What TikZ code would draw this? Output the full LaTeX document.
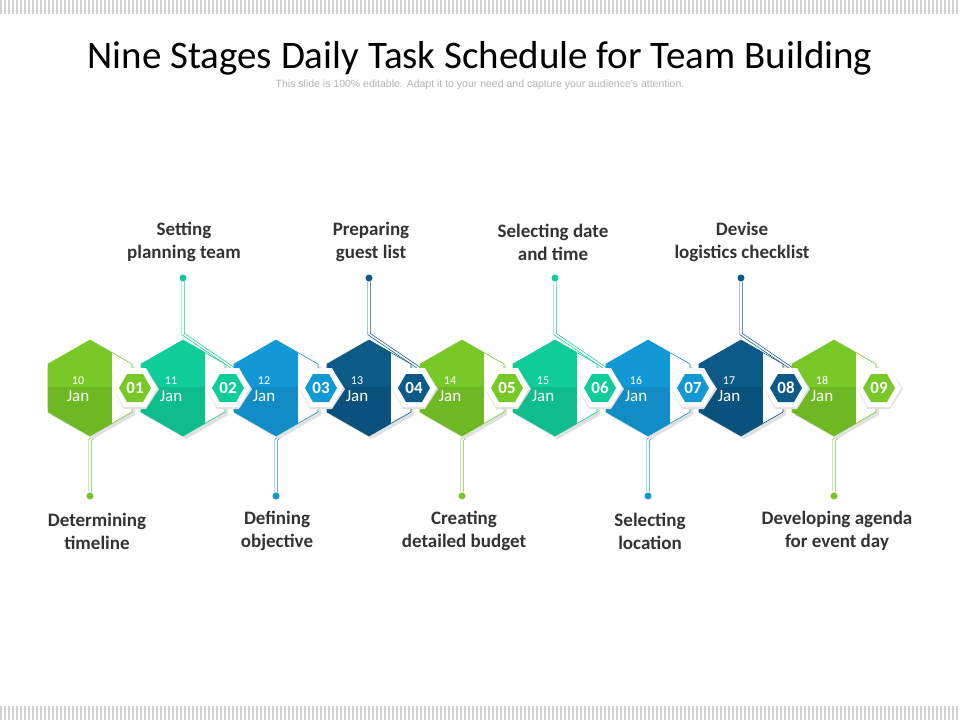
\documentclass[tikz,border=0pt]{standalone}
\usepackage{fontspec}
\setmainfont{Carlito}
\newfontfamily\arialf{Liberation Sans}
\begin{document}
\begin{tikzpicture}[x=1pt,y=-1pt,
  lbl/.style={font=\bfseries\fontsize{19}{23}\selectfont,text=black!80,align=center},
  dotn/.style={circle,fill=#1,inner sep=0pt,minimum size=7pt},
  conn/.style={draw=#1,line width=0.7pt,double=white,double distance=1.6pt},
  datet/.style={text=white,align=center,font=\fontsize{17}{18}\selectfont}]
\useasboundingbox (0,0) rectangle (960,720);
\fill[white] (0,0) rectangle (960,720);
\foreach \i in {0,4,...,956}{
  \fill[black!18] (\i,0) rectangle (\i+2,14);
  \fill[black!18] (\i,706) rectangle (\i+2,720);}
\node (title) at (480,58) {\fontsize{39}{42}\selectfont Nine Stages Daily Task Schedule for Team Building};
\node (sub) at (480,85) {\arialf\fontsize{10.5}{11}\selectfont\color{black!30} This slide is 100\% editable. Adapt it to your need and capture your audience's attention.};
\definecolor{cA}{HTML}{78C828}
\definecolor{cB}{HTML}{10CC98}
\definecolor{cC}{HTML}{1398D6}
\definecolor{cD}{HTML}{0B5A88}
% bottom connectors (odd)
\foreach \k/\c/\o/\t in {1/cA/7/{Determining\\timeline},3/cC/1/{Defining\\objective},5/cA/2/{Creating\\detailed budget},7/cC/2/{Selecting\\location},9/cA/3/{Developing agenda\\for event day}}{
  \pgfmathsetmacro\cx{90+93*(\k-1)}
  \coordinate (bs\k) at (\cx+38,407);
  \coordinate (bm\k) at (\cx,440);
  \node[dotn=\c] (bd\k) at (\cx,496) {};
  \draw[conn=\c] (bs\k)--(bm\k)--(bd\k);
  \node[lbl] (bl\k) at (\cx+\o,531) {\t};
}
\foreach \k/\c/\o/\t in {2/cB/1/{Setting\\planning team},4/cD/2/{Preparing\\guest list},6/cB/-2/{Selecting date\\and time},8/cD/1/{Devise\\logistics checklist}}{
  \pgfmathsetmacro\cx{90+93*(\k-1)}
  \coordinate (ts\k) at (\cx+50,368);
  \coordinate (tm\k) at (\cx,334);
  \node[dotn=\c] (td\k) at (\cx,278) {};
  \draw[conn=\c] (ts\k)--(tm\k)--(td\k);
  \node[lbl] (tl\k) at (\cx+\o,242) {\t};
}
\foreach \k/\c/\d in {1/cA/10,2/cB/11,3/cC/12,4/cD/13,5/cA/14,6/cB/15,7/cC/16,8/cD/17,9/cA/18}{
  \pgfmathsetmacro\cx{90+93*(\k-1)}
  \fill[black!12] (\cx+3,340+3)--(\cx+45,364+3)--(\cx+45,412+3)--(\cx+3,436+3)--(\cx-39,412+3)--(\cx-39,364+3)--cycle;
  \fill[white] (\cx,340)--(\cx+42,364)--(\cx+42,412)--(\cx,436)--(\cx-42,412)--(\cx-42,364)--cycle;
  \draw[\c,line width=0.6pt] (\cx,340)--(\cx+42,364)--(\cx+42,412)--(\cx,436)--(\cx-42,412)--(\cx-42,364)--cycle;
  \begin{scope}
  \clip (\cx-50,330) rectangle (\cx+22,445);
  \clip (\cx,340)--(\cx+42,364)--(\cx+42,412)--(\cx,436)--(\cx-42,412)--(\cx-42,364)--cycle;
  \fill[\c] (\cx-50,330) rectangle (\cx+22,445);
  \fill[black,opacity=0.08] (\cx-50,387) rectangle (\cx+22,445);
  \end{scope}
  \node[datet] (d\k) at (\cx-12,389) {{\fontsize{12}{13}\selectfont\d}\\[-1pt]Jan};
}
\foreach \k/\c in {1/cA,2/cB,3/cC,4/cD,5/cA,6/cB,7/cC,8/cD,9/cA}{
  \pgfmathsetmacro\cx{90+93*(\k-1)}
  \fill[black!12] (\cx+45-22,389)--(\cx+45-11,369)--(\cx+45+11,369)--(\cx+45+24,389)--(\cx+45+11,409)--(\cx+45-11,409)--cycle;
  \fill[white] (\cx+45-22,388)--(\cx+45-11,368)--(\cx+45+11,368)--(\cx+45+22,388)--(\cx+45+11,407)--(\cx+45-11,407)--cycle;
  \fill[\c] (\cx+45-16,388)--(\cx+45-8,374)--(\cx+45+8,374)--(\cx+45+16,388)--(\cx+45+8,402)--(\cx+45-8,402)--cycle;
  \node[text=white,font=\bfseries\fontsize{17}{18}\selectfont] (n\k) at (\cx+45,388) {0\k};
}
\end{tikzpicture}
\end{document}
